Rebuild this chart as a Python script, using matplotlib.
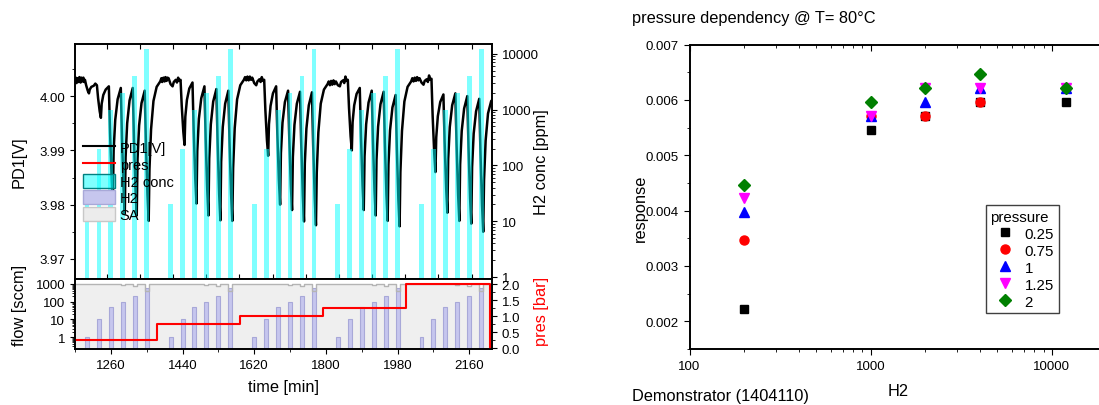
import matplotlib
matplotlib.use('Agg')
import matplotlib.pyplot as plt
from matplotlib.lines import Line2D
from matplotlib.patches import Patch
from matplotlib.ticker import (MultipleLocator, LogLocator, NullFormatter,
                               FuncFormatter, FormatStrFormatter)

plt.rcParams['font.family'] = ['Liberation Sans', 'DejaVu Sans']
plt.rcParams['axes.linewidth'] = 1.2

# ---------------- left chart data ----------------
# PD1 signal, (time [min], voltage [V]), one list per pressure step
pd1_p025 = [
    (1170, 4.0028), (1172, 4.0034), (1174, 4.0024), (1176, 4.0033), (1179, 4.0026), (1181, 4.0035),
    (1184, 4.0025), (1186, 4.0034), (1189, 4.0027), (1191, 4.0034), (1193, 4.0026),
    (1195, 4.0030), (1198, 4.0020), (1202, 4.0010), (1205, 4.0005), (1207, 4.0012), (1211, 4.0017),
    (1217, 4.0019), (1221, 4.0023),
    (1225, 4.0020), (1228, 3.9996), (1232, 3.9972), (1235, 3.9960), (1237, 3.9986), (1241, 4.0002), (1247, 4.0012),
    (1255, 4.0018), (1258, 3.9933), (1262, 3.9848), (1265, 3.9805), (1267, 3.9900), (1271, 3.9956), (1277, 3.9994),
    (1285, 4.0015), (1288, 3.9922), (1292, 3.9829), (1295, 3.9783), (1297, 3.9887), (1301, 3.9950), (1307, 3.9992),
    (1315, 4.0015), (1318, 3.9921), (1322, 3.9827), (1325, 3.9780), (1327, 3.9884), (1331, 3.9946), (1337, 3.9987),
    (1345, 4.0010), (1348, 3.9914), (1352, 3.9818), (1355, 3.9770), (1357, 3.9866), (1361, 3.9939), (1367, 3.9991),
    (1375, 4.0017), (1384, 4.0027),
    (1387, 4.0033), (1389, 4.0026), (1392, 4.0034), (1395, 4.0027), (1397, 4.0035), (1400, 4.0028), (1402, 4.0034),
]
pd1_p075 = [
    (1405, 4.0033), (1410, 4.0022), (1415, 4.0018), (1418, 4.0026), (1423, 4.0030), (1426, 4.0025), (1429, 4.0034),
    (1432, 4.0028),
    (1435, 4.0030), (1438, 3.9982), (1442, 3.9934), (1445, 3.9910), (1447, 3.9962), (1451, 3.9993), (1457, 4.0014),
    (1465, 4.0025), (1468, 3.9936), (1472, 3.9847), (1475, 3.9802), (1477, 3.9899), (1481, 3.9958), (1487, 3.9996),
    (1495, 4.0018), (1498, 3.9923), (1502, 3.9828), (1505, 3.9780), (1507, 3.9885), (1511, 3.9948), (1517, 3.9990),
    (1525, 4.0013), (1528, 3.9916), (1532, 3.9819), (1535, 3.9771), (1537, 3.9879), (1541, 3.9943), (1547, 3.9986),
    (1555, 4.0010), (1558, 3.9914), (1562, 3.9818), (1565, 3.9770), (1567, 3.9867), (1571, 3.9941), (1577, 3.9994),
    (1585, 4.0020), (1594, 4.0030),
    (1597, 4.0035), (1600, 4.0029), (1603, 4.0036), (1606, 4.0029), (1609, 4.0036), (1612, 4.0030),
]
pd1_p100 = [
    (1615, 4.0034), (1620, 4.0024), (1625, 4.0020), (1628, 4.0027), (1633, 4.0031), (1636, 4.0026), (1639, 4.0035),
    (1642, 4.0028),
    (1645, 4.0030), (1648, 3.9974), (1652, 3.9918), (1655, 3.9890), (1657, 3.9948), (1661, 3.9982), (1667, 4.0005),
    (1675, 4.0018), (1678, 3.9931), (1682, 3.9844), (1685, 3.9800), (1687, 3.9895), (1691, 3.9951), (1697, 3.9989),
    (1705, 4.0010), (1708, 3.9922), (1712, 3.9834), (1715, 3.9790), (1717, 3.9888), (1721, 3.9947), (1727, 3.9986),
    (1735, 4.0008), (1738, 3.9912), (1742, 3.9817), (1745, 3.9769), (1747, 3.9876), (1751, 3.9940), (1757, 3.9983),
    (1765, 4.0007), (1768, 3.9909), (1772, 3.9811), (1775, 3.9762), (1777, 3.9859), (1781, 3.9933), (1787, 3.9986),
    (1795, 4.0012), (1804, 4.0022),
    (1807, 4.0027), (1810, 4.0020), (1813, 4.0028), (1816, 4.0021), (1819, 4.0029), (1822, 4.0022),
]
pd1_p125 = [
    (1825, 4.0027), (1830, 4.0020), (1835, 4.0018), (1838, 4.0026), (1843, 4.0029), (1846, 4.0024), (1849, 4.0036),
    (1852, 4.0028),
    (1855, 4.0030), (1858, 3.9978), (1862, 3.9926), (1865, 3.9900), (1867, 3.9952), (1871, 3.9983), (1877, 4.0004),
    (1885, 4.0015), (1888, 3.9925), (1892, 3.9835), (1895, 3.9790), (1897, 3.9889), (1901, 3.9948), (1907, 3.9988),
    (1915, 4.0010), (1918, 3.9918), (1922, 3.9826), (1925, 3.9780), (1927, 3.9883), (1931, 3.9944), (1937, 3.9985),
    (1945, 4.0008), (1948, 3.9913), (1952, 3.9818), (1955, 3.9770), (1957, 3.9874), (1961, 3.9937), (1967, 3.9979),
    (1975, 4.0002), (1978, 3.9905), (1982, 3.9808), (1985, 3.9760), (1987, 3.9860), (1991, 3.9936), (1997, 3.9990),
    (2005, 4.0017), (2014, 4.0027),
    (2017, 4.0033), (2020, 4.0027), (2023, 4.0034), (2026, 4.0028), (2029, 4.0035), (2032, 4.0029),
]
pd1_p200 = [
    (2035, 4.0033), (2040, 4.0025), (2045, 4.0021), (2048, 4.0028), (2053, 4.0031), (2056, 4.0026), (2059, 4.0038),
    (2062, 4.0030),
    (2065, 4.0032), (2068, 3.9963), (2072, 3.9894), (2075, 3.9860), (2077, 3.9924), (2081, 3.9963), (2087, 3.9989),
    (2095, 4.0003), (2098, 3.9916), (2102, 3.9829), (2105, 3.9785), (2107, 3.9884), (2111, 3.9943), (2117, 3.9983),
    (2125, 4.0005), (2128, 3.9911), (2132, 3.9817), (2135, 3.9770), (2137, 3.9874), (2141, 3.9936), (2147, 3.9977),
    (2155, 4.0000), (2158, 3.9906), (2162, 3.9812), (2165, 3.9765), (2167, 3.9869), (2171, 3.9931), (2177, 3.9972),
    (2185, 3.9995), (2188, 3.9897), (2192, 3.9799), (2195, 3.9750), (2197, 3.9845), (2201, 3.9918), (2207, 3.9968),
    (2215, 3.9991), (2218, 3.9993),
]

# gas pulses (centre time [min]), H2 concentration [ppm], H2 flow [sccm]
pulse_time = [1200, 1230, 1260, 1290, 1320, 1350,
              1410, 1440, 1470, 1500, 1530, 1560,
              1620, 1650, 1680, 1710, 1740, 1770,
              1830, 1860, 1890, 1920, 1950, 1980,
              2040, 2070, 2100, 2130, 2160, 2190]
h2_conc = [20, 200, 1000, 2000, 4000, 12000,
           20, 200, 1000, 2000, 4000, 12000,
           20, 200, 1000, 2000, 4000, 12000,
           20, 200, 1000, 2000, 4000, 12000,
           20, 200, 1000, 2000, 4000, 12000]
h2_flow = [1, 10, 50, 100, 200, 600,
           1, 10, 50, 100, 200, 600,
           1, 10, 50, 100, 200, 600,
           1, 10, 50, 100, 200, 600,
           1, 10, 50, 100, 200, 600]
sa_total = 1000
pulse_len = 10

pres_time = [1170, 1377, 1585, 1793, 2002, 2213]
pres_bar = [0.25, 0.75, 1.0, 1.25, 2.0, 0.0]

# ---------------- right chart data ----------------
h2_ppm = [200, 1000, 2000, 4000, 12000]
resp_025 = [0.00222, 0.00546, 0.00571, 0.00596, 0.00596]
resp_075 = [0.00347, 0.00571, 0.00571, 0.00596, 0.00621]
resp_100 = [0.00397, 0.00571, 0.00597, 0.00621, 0.00621]
resp_125 = [0.00423, 0.00571, 0.00621, 0.00621, 0.00621]
resp_200 = [0.00447, 0.00596, 0.00621, 0.00646, 0.00621]

W, H = 1099., 406.


def box(l, t, r, b):
    """pixel box -> figure fraction rect"""
    return [l / W, 1 - b / H, (r - l) / W, (b - t) / H]


def log_ticks(axis):
    axis.set_major_locator(LogLocator(base=10, numticks=12))
    axis.set_minor_locator(LogLocator(base=10, subs=range(2, 10), numticks=12))
    axis.set_major_formatter(FuncFormatter(lambda v, p: '%g' % v))
    axis.set_minor_formatter(NullFormatter())


fig = plt.figure(figsize=(W / 100, H / 100), dpi=100)

TICK_FS = 9.5
LABEL_FS = 11.8
t_lim = (1170, 2217)

# ---- upper panel: PD1 + H2 conc ----
ax_pd = fig.add_axes(box(75, 45, 492, 280))
ax_conc = ax_pd.twinx()

pd1 = pd1_p025 + pd1_p075 + pd1_p100 + pd1_p125 + pd1_p200
ax_pd.plot([p[0] for p in pd1], [p[1] for p in pd1], color='black', lw=1.8)
ax_pd.set_xlim(t_lim)
ax_pd.set_ylim(3.9663, 4.0096)
ax_pd.yaxis.set_major_locator(MultipleLocator(0.01))
ax_pd.yaxis.set_minor_locator(MultipleLocator(0.005))
ax_pd.yaxis.set_major_formatter(FormatStrFormatter('%.2f'))
ax_pd.set_xticks([1249.25 + 83.33 * k for k in range(12)])
ax_pd.tick_params(axis='x', which='both', direction='in', top=True, bottom=True,
                  labelbottom=False, length=3.5)
ax_pd.tick_params(axis='y', which='major', direction='out', length=3.5, labelsize=TICK_FS)
ax_pd.tick_params(axis='y', which='minor', direction='out', length=2)
ax_pd.set_ylabel('PD1[V]', fontsize=LABEL_FS)
ax_pd.yaxis.set_label_coords(-0.115, 0.5)

ax_conc.set_yscale('log')
ax_conc.bar(pulse_time, h2_conc, width=pulse_len + 2, bottom=0.3, color='#00ffff',
            alpha=0.5, lw=0)
ax_conc.set_ylim(0.92, 15000)
ax_conc.set_xlim(t_lim)
log_ticks(ax_conc.yaxis)
ax_conc.tick_params(axis='y', which='major', direction='out', length=3.5, labelsize=TICK_FS)
ax_conc.tick_params(axis='y', which='minor', direction='out', length=2)
ax_conc.set_ylabel('H2 conc [ppm]', fontsize=LABEL_FS)
ax_conc.yaxis.set_label_coords(1.1, 0.5)

# ---- lower panel: flows + pressure ----
ax_flow = fig.add_axes(box(75, 280, 492, 350))
ax_pres = ax_flow.twinx()

sa_t, sa_v = [t_lim[0]], [sa_total]
for t, f in zip(pulse_time, h2_flow):
    sa_t += [t - pulse_len / 2, t - pulse_len / 2, t + pulse_len / 2, t + pulse_len / 2]
    sa_v += [sa_total, sa_total - f, sa_total - f, sa_total]
sa_t.append(t_lim[1])
sa_v.append(sa_total)

ax_flow.set_yscale('log')
ax_flow.fill_between(sa_t, 0.01, sa_v, color='#efefef', lw=0)
ax_flow.plot(sa_t, sa_v, color='#b4b4b4', lw=1)
ax_flow.bar(pulse_time, h2_flow, width=pulse_len, bottom=0.01, color='#c6c6ee',
            edgecolor='#a8a8d8', lw=0.8)
ax_flow.set_xlim(t_lim)
ax_flow.set_ylim(0.21, 1900)
log_ticks(ax_flow.yaxis)
ax_flow.xaxis.set_major_locator(MultipleLocator(180))
ax_flow.xaxis.set_minor_locator(MultipleLocator(90))
ax_flow.tick_params(axis='both', which='major', direction='out', length=3.5, labelsize=TICK_FS)
ax_flow.tick_params(axis='both', which='minor', direction='out', length=2)
ax_flow.set_ylabel('flow [sccm]', fontsize=LABEL_FS)
ax_flow.yaxis.set_label_coords(-0.115, 0.64)
ax_flow.set_xlabel('time [min]', fontsize=LABEL_FS, labelpad=6)

ax_pres.step(pres_time, pres_bar, where='post', color='red', lw=1.5)
ax_pres.set_xlim(t_lim)
ax_pres.set_ylim(-0.03, 2.16)
ax_pres.yaxis.set_major_locator(MultipleLocator(0.5))
ax_pres.yaxis.set_minor_locator(MultipleLocator(0.25))
ax_pres.yaxis.set_major_formatter(FormatStrFormatter('%.1f'))
ax_pres.tick_params(axis='y', which='major', direction='out', length=3.5, labelsize=TICK_FS)
ax_pres.tick_params(axis='y', which='minor', direction='out', length=2)
ax_pres.set_ylabel('pres [bar]', fontsize=LABEL_FS, color='red')
ax_pres.yaxis.set_label_coords(1.1, 0.55)

handles = [Line2D([], [], color='black', lw=1.5),
           Line2D([], [], color='red', lw=1.5),
           Patch(facecolor=(0, 1, 1, 0.5), edgecolor='#008080'),
           Patch(facecolor='#c6c6ee', edgecolor='#a8a8d8'),
           Patch(facecolor='#ececec', edgecolor='#c8c8c8')]
ax_conc.legend(handles, ['PD1[V]', 'pres', 'H2 conc', 'H2', 'SA'], loc='upper left',
               bbox_to_anchor=(0.018, 0.59), frameon=False, fontsize=10.5,
               handlelength=2.2, handleheight=1.1, labelspacing=0.12,
               handletextpad=0.35, borderpad=0, borderaxespad=0)

# ---------------- right chart ----------------
ax_r = fig.add_axes(box(689.5, 45.5, 1106.5, 350))
series = [(resp_025, '0.25', 's', 'black', 6),
          (resp_075, '0.75', 'o', 'red', 6.5),
          (resp_100, '1', '^', 'blue', 7),
          (resp_125, '1.25', 'v', 'magenta', 7),
          (resp_200, '2', 'D', 'green', 6)]
for vals, lab, mk, col, ms in series:
    ax_r.plot(h2_ppm, vals, ls='none', marker=mk, color=col, ms=ms, label=lab)

ax_r.set_xscale('log')
ax_r.set_xlim(100, 20000)
ax_r.set_ylim(0.0015, 0.007)
ax_r.yaxis.set_major_locator(MultipleLocator(0.001))
ax_r.yaxis.set_minor_locator(MultipleLocator(0.0005))
ax_r.yaxis.set_major_formatter(FormatStrFormatter('%.3f'))
log_ticks(ax_r.xaxis)
ax_r.tick_params(axis='both', which='major', direction='out', length=4.3, labelsize=TICK_FS)
ax_r.tick_params(axis='both', which='minor', direction='out', length=2.4)
ax_r.set_xlabel('H2', fontsize=LABEL_FS, labelpad=8)
ax_r.set_ylabel('response', fontsize=LABEL_FS, labelpad=8)
ax_r.yaxis.set_label_coords(-0.1, 0.466)

# mirrored inward ticks along the top
ax_rt = ax_r.twiny()
ax_rt.set_xscale('log')
ax_rt.set_xlim(ax_r.get_xlim())
log_ticks(ax_rt.xaxis)
ax_rt.tick_params(axis='x', which='major', direction='in', length=4.3, labeltop=False)
ax_rt.tick_params(axis='x', which='minor', direction='in', length=2.4)

leg = ax_r.legend(title='pressure', loc='upper left', bbox_to_anchor=(0.7103, 0.4729),
                  fontsize=10.8, title_fontsize=10.8, alignment='left', fancybox=False,
                  edgecolor='#404040', framealpha=1, borderpad=0.3, labelspacing=0.2,
                  handletextpad=0.3, handlelength=2.0, borderaxespad=0)
leg.get_frame().set_linewidth(1.0)

fig.text(632 / W, 1 - 22.7 / H, 'pressure dependency @ T= 80°C', fontsize=LABEL_FS,
         ha='left', va='baseline')
fig.text(632 / W, 1 - 401 / H, 'Demonstrator (1404110)', fontsize=LABEL_FS,
         ha='left', va='baseline')

fig.savefig('out.png', dpi=100)
